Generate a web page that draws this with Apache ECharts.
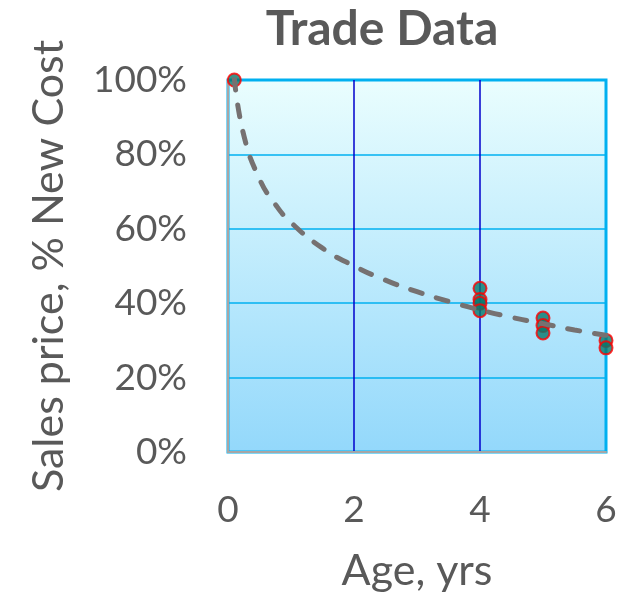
<!DOCTYPE html>
<html>
<head>
<meta charset="utf-8">
<script src="https://cdn.jsdelivr.net/npm/echarts@6/dist/echarts.min.js"></script>
<style>html,body{margin:0;padding:0;background:#fff}#c{width:621px;height:598px}</style>
</head>
<body>
<div id="c"></div>
<script>
// Observed trade data: age (years) and sales price (% of new cost)
const ageYrs = [0.1, 4, 4, 4, 4, 5, 5, 5, 6, 6];
const pricePct = [100, 44, 41, 40, 38, 36, 34, 32, 30, 28];
// Dashed trend curve at sample ages
const trendAge = [0.1, 0.25, 0.5, 0.75, 1, 1.5, 2, 2.5, 3, 3.5, 4, 4.5, 5, 5.5, 6];
const trendPct = [100.5, 85.2, 73.4, 66.6, 61.7, 54.8, 50.0, 46.2, 43.1, 40.5, 38.2, 36.2, 34.5, 32.8, 31.4];
const xTicks = [0, 2, 4, 6];
const yTicks = [0, 20, 40, 60, 80, 100];

const font = 'Lato, "Open Sans", sans-serif';
const chart = echarts.init(document.getElementById('c'));
chart.setOption({
  animation: false,
  title: {
    text: 'Trade Data', left: 377, top: 1, textAlign: 'center',
    textStyle: { fontFamily: font, fontWeight: 'bold', fontSize: 48, color: '#595959' }
  },
  grid: {
    left: 228, right: 15, top: 80, bottom: 144,
    show: true, borderColor: '#00b0f0', borderWidth: 3,
    backgroundColor: new echarts.graphic.LinearGradient(0, 0, 0, 1, [
      { offset: 0, color: '#eafefe' }, { offset: 1, color: '#93d8fb' }
    ])
  },
  xAxis: {
    type: 'value', min: xTicks[0], max: xTicks[xTicks.length - 1], interval: 2,
    name: 'Age, yrs', nameLocation: 'middle', nameGap: 98,
    nameTextStyle: { fontFamily: font, fontSize: 43, color: '#595959' },
    axisLine: { show: true, onZero: false, lineStyle: { color: '#a6a6a6', width: 2 } },
    axisTick: { show: false },
    axisLabel: { margin: 40, fontFamily: font, fontSize: 37, color: '#595959' },
    splitLine: { show: true, lineStyle: { color: ['#a6a6a6', '#0000cc', '#0000cc', '#00b0f0'], width: 1.5 } }
  },
  yAxis: {
    type: 'value', min: yTicks[0], max: yTicks[yTicks.length - 1], interval: 20,
    name: 'Sales price, % New Cost', nameLocation: 'middle', nameGap: 157,
    nameTextStyle: { fontFamily: font, fontSize: 43, color: '#595959' },
    axisLine: { show: true, onZero: false, lineStyle: { color: '#a6a6a6', width: 2 } },
    axisTick: { show: false },
    axisLabel: { margin: 41, fontFamily: font, fontSize: 37, color: '#595959', formatter: '{value}%' },
    splitLine: { show: true, lineStyle: { color: '#00b0f0', width: 1.5 } }
  },
  series: [
    {
      type: 'scatter', z: 3,
      data: ageYrs.map((a, i) => [a, pricePct[i]]),
      symbol: 'circle', symbolSize: 13,
      itemStyle: { color: '#08786b', borderColor: '#ff0000', borderWidth: 2 }
    },
    {
      type: 'line', z: 4, smooth: true, symbol: 'none',
      data: trendAge.map((a, i) => [a, trendPct[i]]),
      lineStyle: { color: '#767171', width: 5, type: [12, 15], cap: 'round' }
    }
  ]
});
</script>
</body>
</html>
